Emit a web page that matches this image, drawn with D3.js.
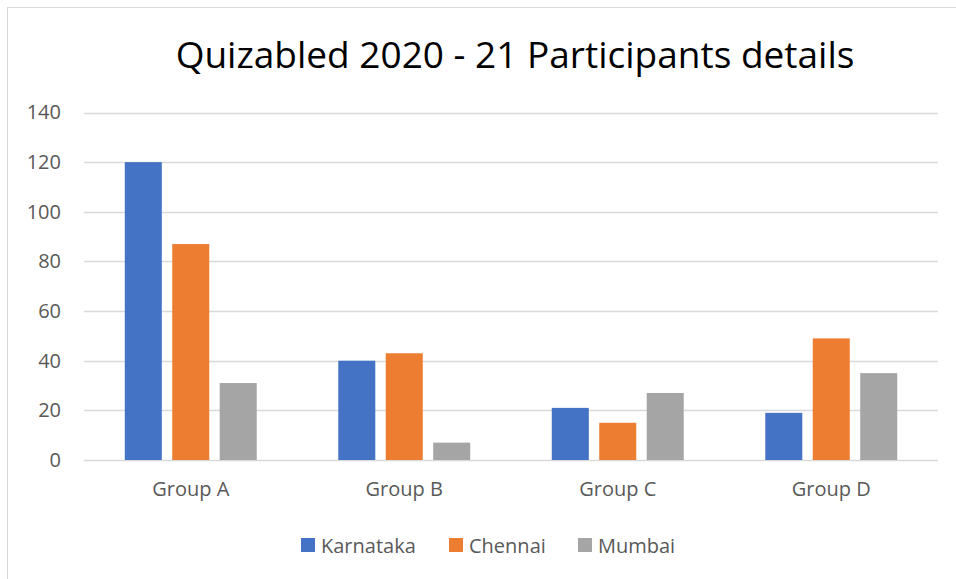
<!DOCTYPE html>
<html>
<head>
<meta charset="utf-8">
<script src="https://cdn.jsdelivr.net/npm/d3@7"></script>
<style>
  html, body { margin: 0; padding: 0; background: #fff; }
  svg { display: block; font-family: "Open Sans", "Noto Sans", sans-serif; }
</style>
</head>
<body>
<svg id="chart" width="956" height="579"></svg>
<script>
const groups = ["Group A", "Group B", "Group C", "Group D"];
const seriesNames = ["Karnataka", "Chennai", "Mumbai"];
const karnataka = [120, 40, 21, 19];
const chennai = [87, 43, 15, 49];
const mumbai = [31, 7, 27, 35];
const yTicks = [0, 20, 40, 60, 80, 100, 120, 140];
const colors = ["#4472C4", "#ED7D31", "#A5A5A5"];

const seriesValues = [karnataka, chennai, mumbai];
const rows = groups.map((g, i) => ({
  group: g,
  values: seriesNames.map((s, j) => ({ name: s, value: seriesValues[j][i] }))
}));

const svg = d3.select("#chart");

// chart frame (only top/left edges are in view)
svg.append("rect")
  .attr("x", 7.5).attr("y", 7.5)
  .attr("width", 1000).attr("height", 1000)
  .attr("fill", "none")
  .attr("stroke", "#d9d9d9");

const plot = {left: 84, right: 938, top: 112.5, bottom: 460};

const x0 = d3.scaleBand()
  .domain(groups)
  .range([plot.left, plot.right])
  .paddingInner(0.382)
  .paddingOuter(0.191);

const x1 = d3.scaleBand()
  .domain(seriesNames)
  .range([0, x0.bandwidth()])
  .paddingInner(0.22);

const y = d3.scaleLinear()
  .domain([0, 140])
  .range([plot.bottom, plot.top]);

// gridlines
svg.append("g")
  .selectAll("line")
  .data(yTicks)
  .join("line")
  .attr("x1", plot.left).attr("x2", plot.right)
  .attr("y1", d => Math.round(y(d)) + 0.5)
  .attr("y2", d => Math.round(y(d)) + 0.5)
  .attr("stroke", "#d9d9d9")
  .attr("stroke-width", 1.3);

// y axis labels
const yAxis = svg.append("g")
  .attr("transform", `translate(${plot.left}, 0)`)
  .call(d3.axisLeft(y).tickValues(yTicks).tickSize(0).tickPadding(23));
yAxis.select(".domain").remove();
yAxis.selectAll("text")
  .attr("fill", "#595959")
  .style("font-family", "'Open Sans', sans-serif")
  .style("font-size", "20px");

// bars
const groupG = svg.append("g")
  .selectAll("g")
  .data(rows)
  .join("g")
  .attr("transform", d => `translate(${x0(d.group)}, 0)`);

groupG.selectAll("rect")
  .data(d => d.values)
  .join("rect")
  .attr("x", d => x1(d.name))
  .attr("y", d => y(d.value))
  .attr("width", x1.bandwidth())
  .attr("height", d => y(0) - y(d.value))
  .attr("fill", (d, i) => colors[i]);

// x axis labels
const xAxis = svg.append("g")
  .attr("transform", `translate(0, ${plot.bottom})`)
  .call(d3.axisBottom(x0).tickSize(0).tickPadding(22));
xAxis.select(".domain").remove();
xAxis.selectAll("text")
  .attr("fill", "#595959")
  .style("font-family", "'Open Sans', sans-serif")
  .style("font-size", "20px");

// title
svg.append("text")
  .attr("x", 515)
  .attr("y", 68)
  .attr("text-anchor", "middle")
  .attr("fill", "#000")
  .style("font-size", "37px")
  .text("Quizabled 2020 - 21 Participants details");

// legend
const legendX = [301, 449, 578];
const legend = svg.append("g")
  .selectAll("g")
  .data(seriesNames)
  .join("g")
  .attr("transform", (d, i) => `translate(${legendX[i]}, 538)`);
legend.append("rect")
  .attr("width", 14).attr("height", 14)
  .attr("fill", (d, i) => colors[i]);
legend.append("text")
  .attr("x", 20).attr("y", 15)
  .attr("fill", "#595959")
  .style("font-size", "20px")
  .text(d => d);
</script>
</body>
</html>
